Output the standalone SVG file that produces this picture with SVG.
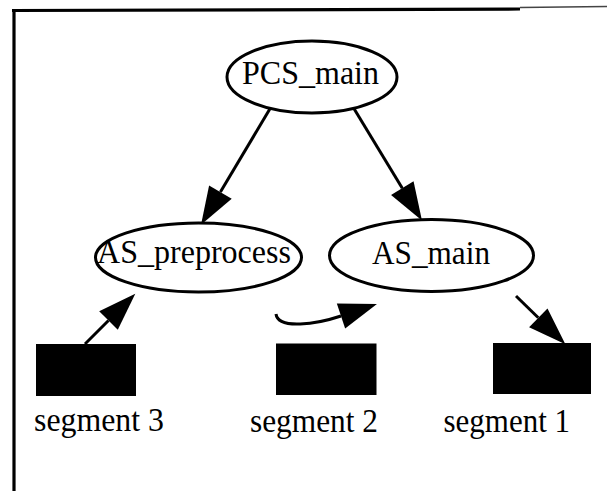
<svg xmlns="http://www.w3.org/2000/svg" width="607" height="491" viewBox="0 0 607 491">
  <style>
    .frame { stroke: #000; stroke-width: 3.2; fill: none; }
    .node ellipse { fill: #fff; stroke: #000; stroke-width: 3; }
    .label { font-family: "Liberation Serif", "Times New Roman", serif; font-size: 33px; fill: #000; }
    .seg rect { fill: #000; }
    .edge { stroke: #000; stroke-width: 3; fill: none; }
  </style>
  <defs>
    <marker id="arrow" markerUnits="userSpaceOnUse" markerWidth="40" markerHeight="28" viewBox="0 -13 38 26" refX="0" refY="0" orient="auto" overflow="visible">
      <path d="M0,-12.5 L36,0 L0,12.5 Z" fill="#000"/>
    </marker>
  </defs>

  <rect width="607" height="491" fill="#fff"/>

  <!-- page frame: top and left rules -->
  <g id="frame">
    <line class="frame" x1="12" y1="10.5" x2="520" y2="9"/>
    <line x1="520" y1="7.5" x2="607" y2="6.5" stroke="#444" stroke-width="1.6"/>
    <line class="frame" x1="14" y1="9" x2="14" y2="491"/>
  </g>

  <!-- connectors -->
  <g id="edges">
    <line class="edge" x1="271" y1="107" x2="220.4" y2="192.1" marker-end="url(#arrow)"/>
    <line class="edge" x1="353" y1="107" x2="402.3" y2="188.2" marker-end="url(#arrow)"/>
    <line class="edge" x1="85" y1="344" x2="108.5" y2="320.5" marker-end="url(#arrow)"/>
    <path class="edge" d="M276,314 C278,330 317,324 341,316" marker-end="url(#arrow)"/>
    <line class="edge" x1="516" y1="296" x2="538.3" y2="317.8" marker-end="url(#arrow)"/>
  </g>

  <!-- nodes -->
  <g id="PCS_main" class="node">
    <ellipse cx="312" cy="77" rx="85" ry="36"/>
    <text class="label" x="242" y="84" textLength="137" lengthAdjust="spacingAndGlyphs">PCS_main</text>
  </g>
  <g id="AS_preprocess" class="node">
    <ellipse cx="198.5" cy="257.5" rx="103" ry="34.5"/>
    <text class="label" x="97" y="263" textLength="194" lengthAdjust="spacingAndGlyphs">AS_preprocess</text>
  </g>
  <g id="AS_main" class="node">
    <ellipse cx="431.5" cy="255.5" rx="102" ry="36"/>
    <text class="label" x="372" y="264" textLength="118" lengthAdjust="spacingAndGlyphs">AS_main</text>
  </g>

  <g id="segment3" class="seg">
    <rect x="36" y="344" width="100" height="52"/>
    <text class="label" x="34" y="431" textLength="130" lengthAdjust="spacingAndGlyphs">segment 3</text>
  </g>
  <g id="segment2" class="seg">
    <rect x="276" y="343.5" width="100.5" height="51.5"/>
    <text class="label" x="250" y="432" textLength="128" lengthAdjust="spacingAndGlyphs">segment 2</text>
  </g>
  <g id="segment1" class="seg">
    <rect x="493" y="343" width="98" height="51"/>
    <text class="label" x="443.5" y="432" textLength="126.5" lengthAdjust="spacingAndGlyphs">segment 1</text>
  </g>
</svg>
